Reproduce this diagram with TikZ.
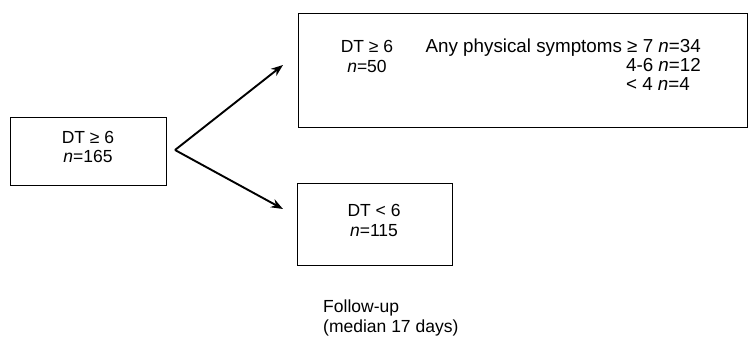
\documentclass[tikz,border=0pt]{standalone}
\usepackage{fontspec}
\setmainfont{Liberation Sans}
\usetikzlibrary{arrows.meta}
\begin{document}
\begin{tikzpicture}[x=1pt,y=-1pt,
  box/.style={draw, line width=0.9pt, inner sep=0pt},
  lbl/.style={font=\fontsize{17.5}{20}\selectfont, inner sep=0pt},
  wide/.style={font=\fontsize{18.8}{20}\selectfont, inner sep=0pt},
  arr/.style={line width=1.9pt, -{Stealth[length=12pt,width=9pt]}}]
\useasboundingbox (0,0) rectangle (754,342);
% left box
\node[box, lbl, anchor=north west, minimum width=156pt, minimum height=68pt, align=center] (root) at (10,117) {};
\node[lbl, anchor=base] (rootdt) at (88,143) {DT ≥ 6};
\node[lbl, anchor=base] (rootn) at (88,162) {\textit{n}=165};
% top box
\node[box, anchor=north west, minimum width=449pt, minimum height=114pt] (hi) at (298,13) {};
\node[lbl, anchor=base] (hidt) at (367,53) {DT ≥ 6};
\node[lbl, anchor=base] (hin) at (367,73) {\textit{n}=50};
\node[wide, anchor=base east] (sym1) at (701,53) {Any physical symptoms ≥ 7 \textit{n}=34};
\node[wide, anchor=base east] (sym2) at (701,72) {4-6 \textit{n}=12};
\node[wide, anchor=base west] (sym3) at (sym2.base west) [yshift=-19pt] {< 4 \textit{n}=4};
% lower box
\node[box, anchor=north west, minimum width=155pt, minimum height=82pt] (lo) at (297,183) {};
\node[lbl, anchor=base] (lodt) at (374,216) {DT < 6};
\node[lbl, anchor=base] (lon) at (374,236) {\textit{n}=115};
% follow-up
\node[lbl, anchor=north west, align=left] (fu) at (323,300) {Follow-up\\(median 17 days)};
% arrows
\coordinate (j) at (175,150);
\coordinate (tipA) at (283,65);
\coordinate (tipB) at (283,209);
\draw[arr] (j) -- (tipA);
\draw[arr] (j) -- (tipB);
\end{tikzpicture}
\end{document}
